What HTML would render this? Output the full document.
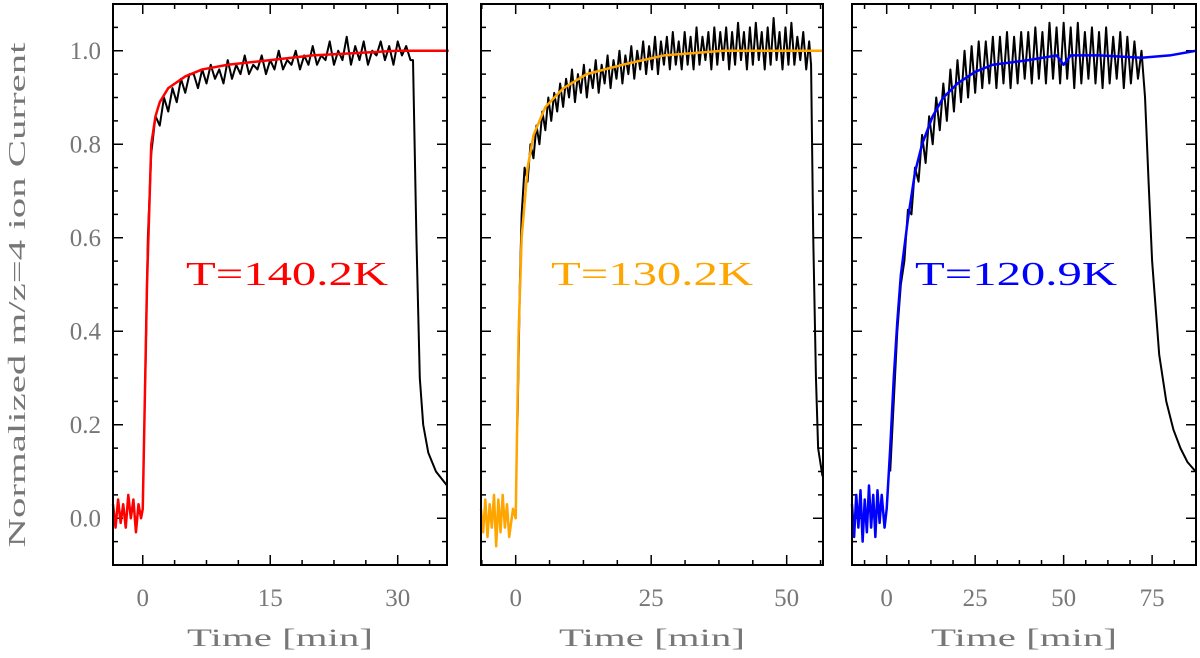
<!DOCTYPE html>
<html><head><meta charset="utf-8"><style>
body{margin:0;background:#fff}
svg{display:block}
text{font-family:"Liberation Serif",serif;fill:#777}
</style></head><body>
<svg id="chart" width="1200" height="658" viewBox="0 0 1200 658" xmlns="http://www.w3.org/2000/svg">
<text x="0" y="0" font-size="24" text-anchor="middle" textLength="505" lengthAdjust="spacingAndGlyphs" transform="translate(25,295) rotate(-90)">Normalized m/z=4 ion Current</text>
</svg>
<script>
// Panel 1 (T=140.2K)
const fit1T=[-3.5,-3.2,-2.9,-2.6,-2.3,-2,-1.7,-1.4,-1.1,-0.8,-0.5,-0.2,0,0.5,1,1.5,2,3,5,7,10,15,20,25,30,36];
const fit1V=[0.03,-0.02,0.04,-0.01,0.03,-0.02,0.05,0.0,0.04,-0.03,0.03,0.0,0.02,0.5,0.8,0.86,0.89,0.92,0.945,0.96,0.97,0.98,0.99,0.995,1.0,1.0];
const dat1HeadT=[0.3,0.6,1,1.5,2,2.5,3,3.5,4,4.5,5,5.5];
const dat1HeadV=[0.3,0.6,0.78,0.86,0.84,0.9,0.87,0.92,0.89,0.94,0.91,0.95];
const dat1Dense=[0.95,0.92,0.96,0.93,0.97,0.94,0.96,0.93,0.98,0.94,0.97,0.95,0.99,0.95,0.97,0.96,0.99,0.95,0.98,0.96,1.0,0.96,0.98,0.97,1.0,0.96,0.99,0.97,1.01,0.97,0.99,0.98,1.02,0.97,1.0,0.98,1.03,0.97,1.01,0.98,1.02,0.97,1.0,0.99,1.02,0.98,1.01,0.97,1.02,0.99,1.01,0.98];
const dat1TailT=[31.8,32.2,32.6,33,33.6,34.5,35.8];
const dat1TailV=[0.98,0.6,0.3,0.2,0.14,0.1,0.07];
// Panel 2 (T=130.2K)
const fit2T=[-6.4,-6,-5.6,-5.2,-4.8,-4.4,-4,-3.6,-3.2,-2.8,-2.4,-2,-1.6,-1.2,-0.5,0,0.55,1.1,2.2,3.3,5.5,8.8,13.1,19.7,27.4,38.3,49.2,56.7];
const fit2V=[0.02,-0.03,0.04,-0.04,0.03,-0.02,0.05,-0.06,0.04,-0.03,0.05,-0.02,0.03,-0.04,0.02,0.0,0.4,0.6,0.75,0.82,0.88,0.92,0.95,0.97,0.99,1.0,1.0,1.0];
const dat2HeadT=[0.33,0.77,1.1,1.64,2.19,2.73,3.28,3.83,4.38,4.92,5.47,6.02,6.56,7.11,7.66,8.2];
const dat2HeadV=[0.2,0.5,0.65,0.75,0.72,0.8,0.77,0.84,0.8,0.87,0.83,0.9,0.85,0.91,0.87,0.93];
const dat2Dense=[0.88,0.94,0.9,0.96,0.89,0.95,0.91,0.97,0.9,0.96,0.92,0.98,0.91,0.97,0.93,0.99,0.92,0.98,0.94,1.0,0.93,0.99,0.95,1.01,0.94,1.0,0.96,1.02,0.95,1.01,0.96,1.03,0.95,1.02,0.97,1.03,0.96,1.04,0.97,1.02,0.96,1.04,0.97,1.03,0.96,1.05,0.97,1.03,0.98,1.04,0.96,1.05,0.97,1.04,0.98,1.05,0.96,1.04,0.97,1.06,0.98,1.04,0.96,1.05,0.97,1.06,0.98,1.04,0.96,1.05,0.97,1.07,0.98,1.04,0.96,1.05,0.97,1.06,0.97,1.03,0.98,1.04,0.96,1.02];
const dat2TailT=[54.5,54.9,55.4,55.8,56.6];
const dat2TailV=[0.97,0.6,0.3,0.15,0.09];
// Panel 3 (T=120.9K)
const fit3T=[-9.8,-9.2,-8.6,-8,-7.4,-6.8,-6.2,-5.6,-5,-4.4,-3.8,-3.2,-2.6,-2,-1.4,-0.6,0,1,2,3,4,6,8,10,13,16,20,25,30,40,48,50,52,60,72,80,87.4];
const fit3V=[0.03,-0.04,0.05,-0.02,0.06,-0.05,0.04,-0.03,0.07,-0.02,0.05,-0.04,0.06,-0.01,0.05,-0.02,0.02,0.15,0.3,0.42,0.52,0.64,0.74,0.8,0.86,0.9,0.93,0.955,0.97,0.98,0.99,0.97,0.99,0.99,0.985,0.99,1.0];
const dat3Dense=[0.1,0.25,0.4,0.5,0.55,0.66,0.65,0.75,0.72,0.82,0.76,0.86,0.8,0.9,0.83,0.93,0.85,0.96,0.87,0.98,0.89,1.0,0.9,1.01,0.91,1.02,0.92,1.02,0.93,1.03,0.92,1.03,0.93,1.04,0.92,1.03,0.93,1.04,0.94,1.04,0.93,1.05,0.94,1.04,0.93,1.06,0.94,1.05,0.93,1.06,0.94,1.05,0.92,1.06,0.93,1.04,0.94,1.05,0.93,1.04,0.92,1.05,0.93,1.03,0.94,1.04,0.92,1.03,0.93,1.02,0.94,1.0];
const dat3TailT=[73,74,75,76,77,79,81,83,85,87.3];
const dat3TailV=[0.9,0.72,0.55,0.45,0.35,0.25,0.19,0.15,0.12,0.1];
const yTicks=[0.0,0.2,0.4,0.6,0.8,1.0];
const yLabels=["0.0","0.2","0.4","0.6","0.8","1.0"];
const x1Ticks=[0,15,30], x2Ticks=[0,25,50], x3Ticks=[0,25,50,75];
const labels=["T=140.2K","T=130.2K","T=120.9K"];

function denseTimes(start,n,step){const a=[];for(let k=0;k<n;k++)a.push(start+k*step);return a;}
const dat1T=dat1HeadT.concat(denseTimes(6,dat1Dense.length,0.5),dat1TailT);
const dat1V=dat1HeadV.concat(dat1Dense,dat1TailV);
const dat2T=dat2HeadT.concat(denseTimes(8.75,dat2Dense.length,0.547),dat2TailT);
const dat2V=dat2HeadV.concat(dat2Dense,dat2TailV);
const dat3T=denseTimes(1,dat3Dense.length,1).concat(dat3TailT);
const dat3V=dat3Dense.concat(dat3TailV);

const panels=[
 {l:113,r:447,x0:-3.5,x1:35.8,maj:x1Ticks,minor:3.75,majStep:15,ft:fit1T,fv:fit1V,dt:dat1T,dv:dat1V,col:"#ff0000",lab:labels[0]},
 {l:481,r:823,x0:-6.4,x1:56.7,maj:x2Ticks,minor:6.25,majStep:25,ft:fit2T,fv:fit2V,dt:dat2T,dv:dat2V,col:"#ffa500",lab:labels[1]},
 {l:852,r:1196,x0:-9.8,x1:87.4,maj:x3Ticks,minor:6.25,majStep:25,ft:fit3T,fv:fit3V,dt:dat3T,dv:dat3V,col:"#0000ff",lab:labels[2]}
];
const plotTop=4,plotBot=565,yMin=-0.1,yMax=1.1;
const svg=document.getElementById('chart');
const NS="http://www.w3.org/2000/svg";
function el(tag,attrs){const e=document.createElementNS(NS,tag);for(const k in attrs)e.setAttribute(k,attrs[k]);svg.appendChild(e);return e;}
const ys=v=>plotBot-(v-yMin)/(yMax-yMin)*(plotBot-plotTop);
panels.forEach((p,i)=>{
 const xs=t=>p.l+(t-p.x0)/(p.x1-p.x0)*(p.r-p.l);
 for(let k=-2;k<=22;k++){
  const v=k*0.05;
  const major=(k%4===0);
  const L=major?10:5,y=ys(v);
  const a=el('path',{d:`M${p.l},${y}h${L}M${p.r},${y}h${-L}`,stroke:'#000','stroke-width':1.5});
  
  
 }
 const kStart=Math.ceil(p.x0/p.minor), kEnd=Math.floor(p.x1/p.minor);
 for(let k=kStart;k<=kEnd;k++){
  const t=k*p.minor;
  const r=t/p.majStep;
  const major=Math.abs(r-Math.round(r))<1e-6;
  const L=major?10:5,x=xs(t);
  const a=el('path',{d:`M${x},${plotBot}v${-L}M${x},${plotTop}v${L}`,stroke:'#000','stroke-width':1.5});
  
  
 }
 p.maj.forEach(m=>{
  const tx=el('text',{x:xs(m),y:606,'font-size':25,'text-anchor':'middle'});tx.textContent=m;
  
  
 });
 const xt=el('text',{x:(p.l+p.r)/2,y:646,'font-size':25,'text-anchor':'middle',textLength:186,lengthAdjust:'spacingAndGlyphs'});xt.textContent='Time [min]';
 
 
 if(i===0){yTicks.forEach((v,k)=>{
  const tx=el('text',{x:p.l-12,y:ys(v)+8,'font-size':25,'text-anchor':'end'});tx.textContent=yLabels[k];
  
  
 });}
 const dl=el('polyline',{points:p.dt.map((t,k)=>xs(t)+','+ys(p.dv[k])).join(' '),fill:'none',stroke:'#000','stroke-width':2,'stroke-linejoin':'round'});
 
 
 const fl=el('polyline',{points:p.ft.map((t,k)=>xs(t)+','+ys(p.fv[k])).join(' '),fill:'none',stroke:p.col,'stroke-width':2.5,'stroke-linejoin':'round'});
 
 
 const frame=el('rect',{x:p.l,y:plotTop,width:p.r-p.l,height:plotBot-plotTop,fill:'none',stroke:'#000','stroke-width':2});
 
 
 const lb=el('text',{x:(p.l+p.r)/2+(i===0?7:(i===2?-8:0)),y:285,'font-size':34,'text-anchor':'middle',textLength:202,lengthAdjust:'spacingAndGlyphs',style:'fill:'+p.col});lb.textContent=p.lab;
 
 
});
</script>
</body></html>
